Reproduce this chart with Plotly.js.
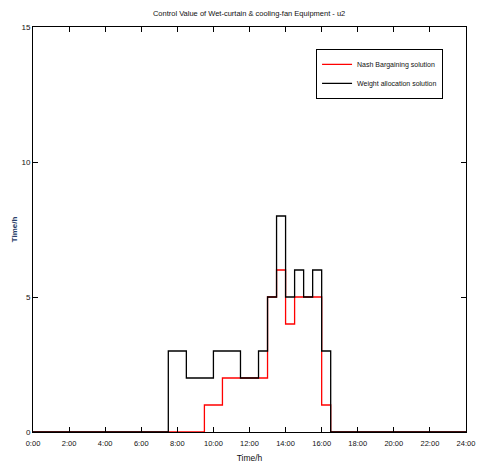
<!DOCTYPE html>
<html><head><meta charset="utf-8">
<script src="https://cdn.plot.ly/plotly-3.0.1.min.js"></script>
<style>html,body{margin:0;padding:0;background:#fff}#chart{width:479px;height:468px}</style>
</head><body><div id="chart"></div>
<script>
const nashTimes = [0, 9.5, 10.5, 13, 13.5, 14, 14.5, 16, 16.5, 24];
const nashValues = [0, 1, 2, 5, 6, 4, 5, 1, 0, 0];
const weightTimes = [0, 7.5, 8.5, 10, 11.5, 12.5, 13, 13.5, 14, 14.5, 15, 15.5, 16, 16.5, 24];
const weightValues = [0, 3, 2, 3, 2, 3, 5, 8, 5, 6, 5, 6, 3, 0, 0];
const xTickVals = [0, 2, 4, 6, 8, 10, 12, 14, 16, 18, 20, 22, 24];
const xTickText = ['0:00','2:00','4:00','6:00','8:00','10:00','12:00','14:00','16:00','18:00','20:00','22:00','24:00'];
const yTickVals = [0, 5, 10, 15];

const narrow = '"Liberation Sans Narrow", "Arial Narrow", "Liberation Sans", Arial, sans-serif';

const traces = [
  {x: nashTimes, y: nashValues, type: 'scatter', mode: 'lines', line: {shape: 'hv', color: '#ff0000', width: 1.3}, name: 'Nash Bargaining solution'},
  {x: weightTimes, y: weightValues, type: 'scatter', mode: 'lines', line: {shape: 'hv', color: '#000000', width: 1.3}, name: 'Weight allocation solution'}
];

const layout = {
  width: 479, height: 468,
  margin: {l: 33, r: 13, t: 27, b: 36},
  paper_bgcolor: '#fff', plot_bgcolor: '#fff',
  font: {family: narrow, size: 7, color: '#111'},
  title: {text: 'Control Value of Wet-curtain &amp; cooling-fan Equipment - u2', font: {family: narrow, size: 7.5, color: '#111'}, x: 0.52, xanchor: 'center', y: 0.978, yanchor: 'top'},
  xaxis: {range: [0, 24], tickvals: xTickVals, ticktext: xTickText, ticks: 'inside', ticklen: 5, tickcolor: '#000',
    showline: true, linecolor: '#000', linewidth: 1, mirror: 'ticks', showgrid: false, zeroline: false,
    ticklabelstandoff: 4,
    tickfont: {size: 7.5}, title: {text: 'Time/h', font: {size: 8.5}, standoff: 8}},
  yaxis: {range: [0, 15], tickvals: yTickVals, ticks: 'inside', ticklen: 5, tickcolor: '#000',
    showline: true, linecolor: '#000', linewidth: 1, mirror: 'ticks', showgrid: false, zeroline: false,
    tickfont: {size: 8}, title: {text: '<b>Time/h</b>', font: {size: 8, color: '#2a3f6a', family: '"Liberation Sans", Arial, sans-serif'}, standoff: 2}},
  legend: {x: 0.947, y: 0.946, xanchor: 'right', yanchor: 'top', bgcolor: '#fff', bordercolor: '#000', borderwidth: 1,
    font: {size: 7}, tracegroupgap: 0, itemwidth: 30},
  showlegend: true
};
Plotly.newPlot('chart', traces, layout, {displayModeBar: false, staticPlot: true});
</script></body></html>
